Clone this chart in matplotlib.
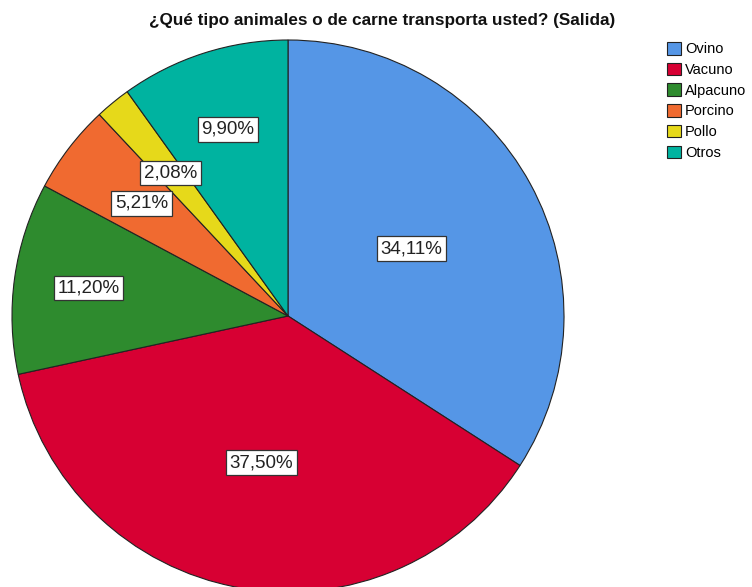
import numpy as np
import matplotlib.pyplot as plt
from matplotlib.patches import Patch

plt.rcParams['font.family'] = ['Liberation Sans', 'DejaVu Sans']

categorias = ["Ovino", "Vacuno", "Alpacuno", "Porcino", "Pollo", "Otros"]
porcentajes = [34.11, 37.50, 11.20, 5.21, 2.08, 9.90]
colores = ["#5596E6", "#D70033", "#2E8B2E", "#F06A30", "#E6D91A", "#00B3A0"]

# distancia radial de cada etiqueta (fraccion del radio)
dist_etiquetas = [0.51, 0.54, 0.73, 0.67, 0.67, 0.71]

fig = plt.figure(figsize=(7.52, 5.87), dpi=100)
ax = fig.add_axes([12 / 752, -5 / 587, 552 / 752, 552 / 587])

wedges, _ = ax.pie(
    porcentajes,
    colors=colores,
    startangle=90,
    counterclock=False,
    radius=1,
    wedgeprops=dict(edgecolor="#222222", linewidth=0.8),
)
for w in wedges:
    w.set_clip_on(False)

for w, p, d in zip(wedges, porcentajes, dist_etiquetas):
    ang = np.deg2rad((w.theta1 + w.theta2) / 2)
    x, y = d * np.cos(ang), d * np.sin(ang)
    ax.text(
        x, y, f"{p:.2f}%".replace(".", ","),
        ha="center", va="center", fontsize=13.5, color="#222222",
        bbox=dict(boxstyle="square,pad=0.2", facecolor="white",
                  edgecolor="#333333", linewidth=0.9),
    )

ax.set_xlim(-1, 1)
ax.set_ylim(-1, 1)
ax.set_aspect("equal")
ax.axis("off")

fig.text(382 / 752, 1 - 20 / 587,
         "¿Qué tipo animales o de carne transporta usted? (Salida)",
         ha="center", va="center", fontsize=12.3, fontweight="bold",
         color="#111111")

handles = [Patch(facecolor=c, edgecolor="#222222", linewidth=0.8) for c in colores]
fig.legend(
    handles, categorias,
    loc="upper left", bbox_to_anchor=(667 / 752, 1 - 42 / 587),
    frameon=False, fontsize=10.5, handlelength=0.95, handleheight=0.95,
    handletextpad=0.3, labelspacing=0.44, borderaxespad=0, borderpad=0,
)

fig.savefig("out.png", dpi=100)
